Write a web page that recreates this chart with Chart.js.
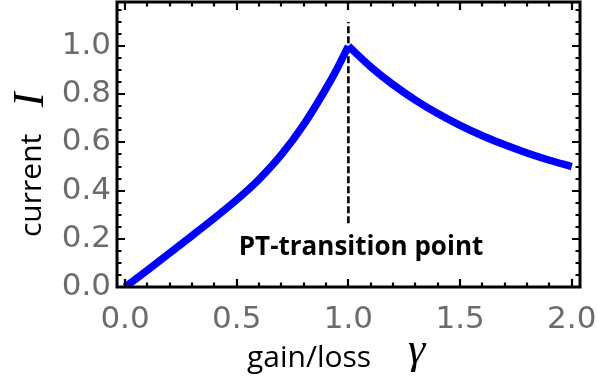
<!DOCTYPE html>
<html>
<head>
<meta charset="utf-8">
<script src="https://cdn.jsdelivr.net/npm/chart.js@4/dist/chart.umd.min.js"></script>
<style>
  html, body { margin: 0; padding: 0; background: #fff; }
  #wrap { width: 597px; height: 383px; position: relative; }
</style>
</head>
<body>
<div id="wrap"><canvas id="c" width="597" height="383"></canvas></div>
<script>
// ---- data ----
const gammaRise   = [0.0, 0.1, 0.2, 0.3, 0.4, 0.5, 0.6, 0.7, 0.8, 0.9, 0.95, 1.0];
const currentRise = [0.0, 0.070, 0.141, 0.213, 0.286, 0.362, 0.447, 0.549, 0.674, 0.824, 0.907, 1.0];
const gammaFall   = [1.0, 1.1, 1.2, 1.3, 1.4, 1.5, 1.6, 1.7, 1.8, 1.9, 2.0];
const currentFall = [1.0, 0.914, 0.840, 0.776, 0.720, 0.671, 0.628, 0.590, 0.556, 0.526, 0.500];
const markerGamma   = [1.0, 1.0];
const markerCurrent = [0.265, 1.1];
const xTickValues = [0.0, 0.5, 1.0, 1.5, 2.0];
const yTickValues = [0.0, 0.2, 0.4, 0.6, 0.8, 1.0];
const xMinorStep = 0.1;
const yMinorStep = 0.05;
const xLabel = 'gain/loss';
const xSymbol = 'γ';
const yLabel = 'current';
const ySymbol = 'I';
const annotationText = 'PT-transition point';

const toPts = (xs, ys) => xs.map((x, i) => ({ x: x, y: ys[i] }));

const framePlugin = {
  id: 'frame',
  afterDatasetsDraw(chart) {
    const ctx = chart.ctx;
    const a = chart.chartArea;
    const xs = chart.scales.x, ys = chart.scales.y;
    ctx.save();
    ctx.strokeStyle = '#000';
    ctx.lineWidth = 3;
    ctx.strokeRect(a.left, a.top, a.right - a.left, a.bottom - a.top);
    ctx.lineWidth = 2.2;
    const major = 8, minor = 4.5;
    for (let v = -10; v <= 30; v++) {
      const val = v * xMinorStep;
      if (val < xs.min - 1e-9 || val > xs.max + 1e-9) continue;
      const px = Math.round(xs.getPixelForValue(val));
      const isMajor = xTickValues.some(t => Math.abs(t - val) < 1e-6);
      const len = isMajor ? major : minor;
      ctx.beginPath();
      ctx.moveTo(px, a.bottom); ctx.lineTo(px, a.bottom - len);
      ctx.moveTo(px, a.top); ctx.lineTo(px, a.top + len);
      ctx.stroke();
    }
    for (let v = 0; v <= 30; v++) {
      const val = v * yMinorStep;
      if (val < ys.min - 1e-9 || val > ys.max + 1e-9) continue;
      const py = Math.round(ys.getPixelForValue(val));
      const isMajor = yTickValues.some(t => Math.abs(t - val) < 1e-6);
      const len = isMajor ? major : minor;
      ctx.beginPath();
      ctx.moveTo(a.left, py); ctx.lineTo(a.left + len, py);
      ctx.moveTo(a.right, py); ctx.lineTo(a.right - len, py);
      ctx.stroke();
    }
    ctx.restore();
  },
  afterDraw(chart) {
    const ctx = chart.ctx;
    ctx.save();
    ctx.fillStyle = '#000';
    ctx.font = 'bold 26px "Open Sans"';
    ctx.textAlign = 'center';
    ctx.textBaseline = 'alphabetic';
    ctx.fillText(annotationText, 361, 255);
    ctx.textAlign = 'left';
    ctx.font = '30px "Open Sans"';
    ctx.fillText(xLabel, 247, 367);
    ctx.font = 'italic 44px "Liberation Serif"';
    ctx.fillText(xSymbol, 408, 363);
    ctx.translate(41, 237);
    ctx.rotate(-Math.PI / 2);
    ctx.font = '30px "Open Sans"';
    ctx.fillText(yLabel, 0, 0);
    ctx.font = 'italic 44px "Liberation Serif"';
    ctx.fillText(ySymbol, 130, 2);
    ctx.restore();
  }
};

const tickFont = { family: '"DejaVu Sans"', size: 31 };

new Chart(document.getElementById('c'), {
  type: 'line',
  data: {
    datasets: [
      { data: toPts(gammaRise, currentRise), borderColor: '#0000ff', borderWidth: 7.5, pointRadius: 0, cubicInterpolationMode: 'monotone', fill: false, borderCapStyle: 'butt' },
      { data: toPts(gammaFall, currentFall), borderColor: '#0000ff', borderWidth: 7.5, pointRadius: 0, cubicInterpolationMode: 'monotone', fill: false, borderCapStyle: 'butt' },
      { data: toPts(markerGamma, markerCurrent), borderColor: '#000', borderWidth: 2.6, borderDash: [7, 3], pointRadius: 0, fill: false }
    ]
  },
  options: {
    responsive: false,
    animation: false,
    devicePixelRatio: 1,
    layout: { padding: { left: 0, right: 17, top: 2, bottom: 0 } },
    plugins: { legend: { display: false }, tooltip: { enabled: false } },
    scales: {
      x: {
        type: 'linear', min: -0.036, max: 2.037,
        afterBuildTicks: s => { s.ticks = xTickValues.map(v => ({ value: v })); },
        afterFit: s => { s.height = 96; s.paddingLeft = 0; s.paddingRight = 0; },
        grid: { display: false, drawTicks: false },
        border: { display: false },
        ticks: { font: tickFont, color: '#6b6b6b', padding: 14, maxRotation: 0, callback: v => v.toFixed(1) }
      },
      y: {
        type: 'linear', min: 0, max: 1.183,
        afterBuildTicks: s => { s.ticks = yTickValues.map(v => ({ value: v })); },
        afterFit: s => { s.width = 117; s.paddingTop = 0; s.paddingBottom = 0; },
        grid: { display: false, drawTicks: false },
        border: { display: false },
        ticks: { font: tickFont, color: '#6b6b6b', padding: 6, callback: v => v.toFixed(1) }
      }
    }
  },
  plugins: [framePlugin]
});
</script>
</body>
</html>
